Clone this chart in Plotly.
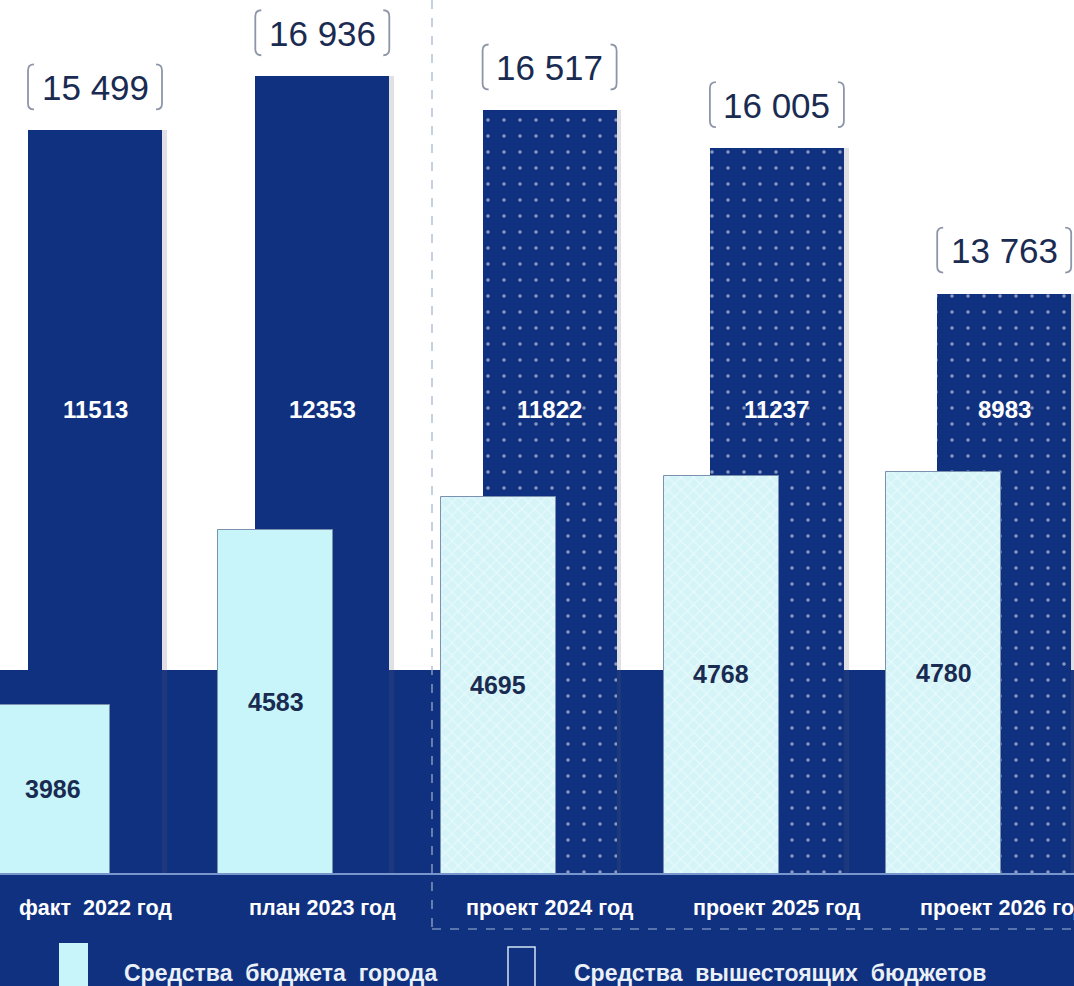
import plotly.graph_objects as go

# ---------------- data ----------------
categories = ["факт  2022 год", "план 2023 год", "проект 2024 год", "проект 2025 год", "проект 2026 год"]
city_budget = [3986, 4583, 4695, 4768, 4780]          # Средства бюджета города
higher_budgets = [11513, 12353, 11822, 11237, 8983]   # Средства вышестоящих бюджетов
totals = [c + h for c, h in zip(city_budget, higher_budgets)]
projected = [False, False, True, True, True]

legend_labels = ["Средства\u00a0\u00a0бюджета\u00a0\u00a0города",
                 "Средства\u00a0\u00a0вышестоящих\u00a0\u00a0бюджетов"]

# ---------------- style ----------------
NAVY = "#10317f"
CYAN = "#c8f5fa"
TXT = "#1a2b52"
FONT = "Liberation Sans, Arial, sans-serif"
W, H = 1074, 986
BASE_PX = 873   # pixel row of the bar baseline

x_idx = list(range(len(categories)))

fig = go.Figure()

# soft shadow of dark bars
fig.add_trace(go.Bar(
    x=[i + 0.02 for i in x_idx], y=higher_budgets, width=0.59,
    marker=dict(color="rgba(90,90,110,0.18)", line=dict(width=0)),
    xaxis="x", yaxis="y", hoverinfo="skip", showlegend=False))

# dark bars (higher budgets)
fig.add_trace(go.Bar(
    x=x_idx, y=higher_budgets, width=0.59, name=legend_labels[1],
    marker=dict(color=NAVY, line=dict(width=0),
                pattern=dict(shape=["." if p else "" for p in projected],
                             fgcolor="#ffffff", bgcolor=NAVY, size=16,
                             solidity=0.04, fillmode="overlay")),
    xaxis="x", yaxis="y", showlegend=False))

# light bars (city budget)
fig.add_trace(go.Bar(
    x=x_idx, y=city_budget, width=0.516, name=legend_labels[0],
    marker=dict(color=CYAN, line=dict(width=1, color="#7c90b0"),
                pattern=dict(shape=["x" if p else "" for p in projected],
                             fgcolor="#ffffff", bgcolor="#d4f4f8", size=9,
                             solidity=0.25, fillmode="overlay")),
    xaxis="x2", yaxis="y2", showlegend=False))

# ---------------- axes ----------------
dom_bottom = (H - BASE_PX) / H
dark_px_per_unit = 0.0645
light_px_per_unit = 0.2931
light_zero = 3413
light_range = [light_zero, light_zero + BASE_PX / light_px_per_unit]
fig.update_layout(
    width=W, height=H,
    margin=dict(l=0, r=0, t=0, b=0),
    paper_bgcolor="white", plot_bgcolor="rgba(0,0,0,0)",
    barmode="overlay", bargap=0,
    xaxis=dict(range=[-95 / 227.3, (W - 95) / 227.3], visible=False, fixedrange=True),
    xaxis2=dict(range=[-52.7 / 222.8, (W - 52.7) / 222.8], overlaying="x",
                visible=False, fixedrange=True),
    yaxis=dict(domain=[dom_bottom, 1], range=[0, BASE_PX / dark_px_per_unit],
               visible=False, fixedrange=True),
    yaxis2=dict(domain=[dom_bottom, 1], overlaying="y", range=light_range,
                visible=False, fixedrange=True),
    showlegend=False,
)

shapes = []
# navy band at the bottom
shapes.append(dict(type="rect", xref="paper", yref="paper", x0=0, x1=1,
                   y0=0, y1=(H - 670) / H, fillcolor=NAVY, line=dict(width=0),
                   layer="below"))
# light baseline
shapes.append(dict(type="line", xref="paper", yref="paper", x0=0, x1=1,
                   y0=(H - 874) / H, y1=(H - 874) / H,
                   line=dict(color="#9db8e6", width=1.5), layer="below"))
# dashed separator (vertical + horizontal)
sep_x = 432 / W
sep_y = (H - 929) / H
shapes.append(dict(type="line", xref="paper", yref="paper", x0=sep_x, x1=sep_x,
                   y0=1, y1=sep_y, line=dict(color="#9fb3cf", width=1.2, dash="dash"),
                   layer="above"))
shapes.append(dict(type="line", xref="paper", yref="paper", x0=sep_x, x1=1,
                   y0=sep_y, y1=sep_y, line=dict(color="#9fb8d8", width=1.2, dash="dash"),
                   layer="above"))

# brackets around totals (pixel-sized, anchored to dark bar tops)
def bracket_paths():
    lo, hi, half, hook = 21, 66, 67, 6
    left = (f"M {-half + hook},{hi} Q {-half},{hi} {-half},{hi - hook} "
            f"L {-half},{lo + hook} Q {-half},{lo} {-half + hook},{lo}")
    right = (f"M {half - hook},{hi} Q {half},{hi} {half},{hi - hook} "
             f"L {half},{lo + hook} Q {half},{lo} {half - hook},{lo}")
    return left, right

for i, v in zip(x_idx, higher_budgets):
    for p in bracket_paths():
        shapes.append(dict(type="path", xref="x", yref="y",
                           xsizemode="pixel", ysizemode="pixel",
                           xanchor=i, yanchor=v, path=p,
                           line=dict(color="#8d96a8", width=1.8), layer="above"))

# legend swatches
shapes.append(dict(type="rect", xref="paper", yref="paper",
                   x0=59 / W, x1=88 / W, y0=-0.01, y1=(H - 943) / H,
                   fillcolor=CYAN, line=dict(width=0), layer="above"))
shapes.append(dict(type="rect", xref="paper", yref="paper",
                   x0=508 / W, x1=535 / W, y0=-0.01, y1=(H - 947) / H,
                   fillcolor=NAVY, line=dict(width=1.5, color="#cfe3f3"), layer="above"))
fig.update_layout(shapes=shapes)

annotations = []
# totals above dark bars
for i, v, t in zip(x_idx, higher_budgets, totals):
    annotations.append(dict(x=i, y=v, xref="x", yref="y", yshift=43,
                            text=f"{t:,}".replace(",", " "), showarrow=False,
                            font=dict(family=FONT, size=35, color=TXT),
                            xanchor="center", yanchor="middle"))
# values inside dark bars
dark_label_level = 7180
for i, v in zip(x_idx, higher_budgets):
    annotations.append(dict(x=i, y=dark_label_level, xref="x", yref="y",
                            text=str(v), showarrow=False,
                            font=dict(family=FONT, size=24, color="white", weight="bold"),
                            xanchor="center", yanchor="middle"))
# values inside light bars (centred in the visible part of each bar)
for i, v in zip(x_idx, city_budget):
    annotations.append(dict(x=i, y=(light_range[0] + v) / 2, xref="x2", yref="y2",
                            text=str(v), showarrow=False,
                            font=dict(family=FONT, size=25, color=TXT, weight="bold"),
                            xanchor="center", yanchor="middle"))
# category labels
for i, c in zip(x_idx, categories):
    annotations.append(dict(x=i, y=(H - 908) / H, xref="x", yref="paper",
                            text=c.replace("  ", "\u00a0\u00a0"), showarrow=False,
                            font=dict(family=FONT, size=21.5, color="white", weight="bold"),
                            xanchor="center", yanchor="middle"))
# legend texts
for lx, lab in zip([122, 572], legend_labels):
    annotations.append(dict(x=lx / W, y=(H - 973) / H, xref="paper", yref="paper",
                            text=lab, showarrow=False, xanchor="left", yanchor="middle",
                            font=dict(family=FONT, size=23, color="#eaf0f8", weight="bold")))
fig.update_layout(annotations=annotations)

fig.write_html("out.html",
               config={"displayModeBar": False},
               post_script="document.body.style.margin='0';"
                           "document.body.style.overflow='hidden';")
